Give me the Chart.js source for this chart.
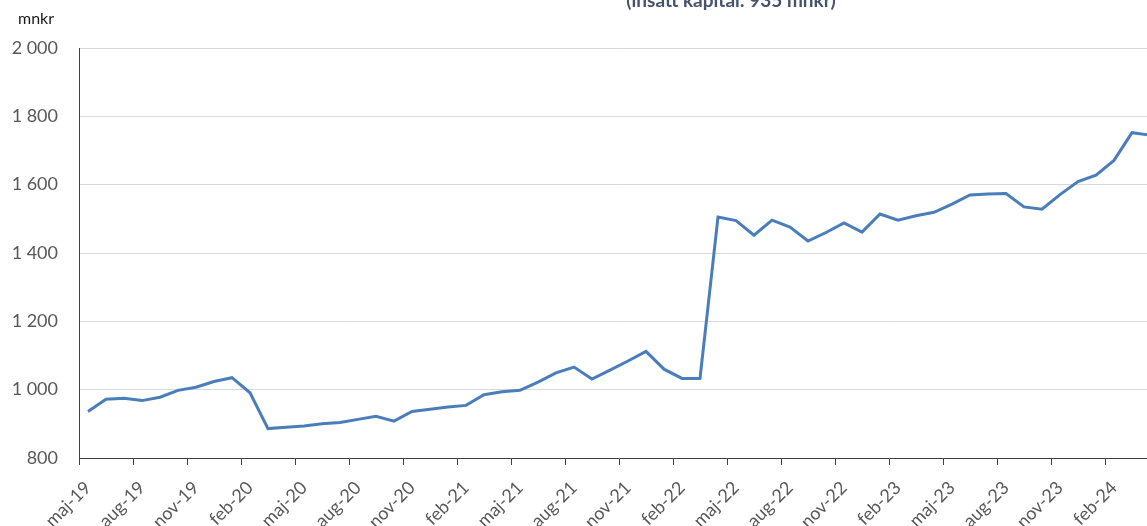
<!DOCTYPE html>
<html>
<head>
<meta charset="utf-8">
<script src="https://cdn.jsdelivr.net/npm/chart.js@4"></script>
<style>
  html, body { margin: 0; padding: 0; background: #fff; overflow: hidden; width: 1147px; height: 526px; }
  #wrap { position: absolute; left: 0; top: 0; }
</style>
</head>
<body>
<div id="wrap"><canvas id="kapital" width="1170" height="540"></canvas></div>
<script>
// månader (kategorier)
const months = [
  'maj-19','jun-19','jul-19','aug-19','sep-19','okt-19','nov-19','dec-19',
  'jan-20','feb-20','mar-20','apr-20','maj-20','jun-20','jul-20','aug-20','sep-20','okt-20','nov-20','dec-20',
  'jan-21','feb-21','mar-21','apr-21','maj-21','jun-21','jul-21','aug-21','sep-21','okt-21','nov-21','dec-21',
  'jan-22','feb-22','mar-22','apr-22','maj-22','jun-22','jul-22','aug-22','sep-22','okt-22','nov-22','dec-22',
  'jan-23','feb-23','mar-23','apr-23','maj-23','jun-23','jul-23','aug-23','sep-23','okt-23','nov-23','dec-23',
  'jan-24','feb-24','mar-24','apr-24'
];

// värde, mnkr
const values = [
  936, 972, 975, 968, 978, 998, 1007, 1024,
  1035, 991, 886, 890, 894, 900, 904, 913, 922, 908, 936, 943,
  949, 954, 985, 994, 998, 1022, 1049, 1066, 1031, 1057, 1084, 1112,
  1060, 1033, 1033, 1505, 1495, 1452, 1496, 1476, 1435, 1460, 1488, 1461,
  1514, 1496, 1509, 1519, 1543, 1570, 1573, 1574, 1535, 1528, 1571, 1609,
  1628, 1671, 1752, 1745
];

const yMin = 800, yMax = 2000, yStep = 200;
const titleText = '(insatt kapital: 935 mnkr)';
const unitText = 'mnkr';

const fmt = v => String(v).replace(/\B(?=(\d{3})+(?!\d))/g, ' ');

// titel + enhet
const extraText = {
  id: 'extraText',
  afterDraw(chart) {
    const c = chart.ctx;
    c.save();
    c.font = 'bold 19px Lato';
    c.fillStyle = '#44546A';
    c.textAlign = 'center';
    c.textBaseline = 'alphabetic';
    c.fillText(titleText, 731, 7);
    c.font = '16px Lato';
    c.fillStyle = '#1a1a1a';
    c.textAlign = 'left';
    c.fillText(unitText, 18, 24);
    c.restore();
  }
};

const ctx = document.getElementById('kapital');
new Chart(ctx, {
  type: 'line',
  data: {
    labels: months,
    datasets: [{
      label: 'mnkr',
      data: values,
      borderColor: '#4A7EBB',
      borderWidth: 3,
      pointRadius: 0,
      tension: 0,
      fill: false
    }]
  },
  options: {
    responsive: false,
    animation: false,
    devicePixelRatio: 1,
    layout: { padding: { top: 48, right: 11, left: 0, bottom: 0 } },
    plugins: {
      legend: { display: false },
      tooltip: { enabled: false }
    },
    scales: {
      x: {
        offset: true,
        afterFit: s => { s.height = 82; s.paddingLeft = 0; s.paddingRight = 0; },
        grid: {
          offset: true,
          drawOnChartArea: false,
          tickLength: 7,
          color: c => (c.index % 3 === 0 ? '#404040' : 'rgba(0,0,0,0)')
        },
        border: { display: true, color: '#404040', width: 1 },
        ticks: {
          autoSkip: false,
          maxRotation: 45,
          minRotation: 45,
          padding: 12,
          color: '#595959',
          font: { family: 'Lato', size: 18 },
          callback: (v, i) => (i % 3 === 0 ? months[i] : '')
        }
      },
      y: {
        min: yMin,
        max: yMax,
        afterFit: s => { s.width = 79; },
        grid: {
          drawTicks: false,
          color: c => (c.tick && c.tick.value === yMin ? 'rgba(0,0,0,0)' : '#D9D9D9'),
          lineWidth: 1
        },
        border: { display: true, color: '#404040', width: 1 },
        ticks: {
          stepSize: yStep,
          padding: 21,
          color: '#595959',
          font: { family: 'Lato', size: 18 },
          callback: v => fmt(v)
        }
      }
    }
  },
  plugins: [extraText]
});
</script>
</body>
</html>
